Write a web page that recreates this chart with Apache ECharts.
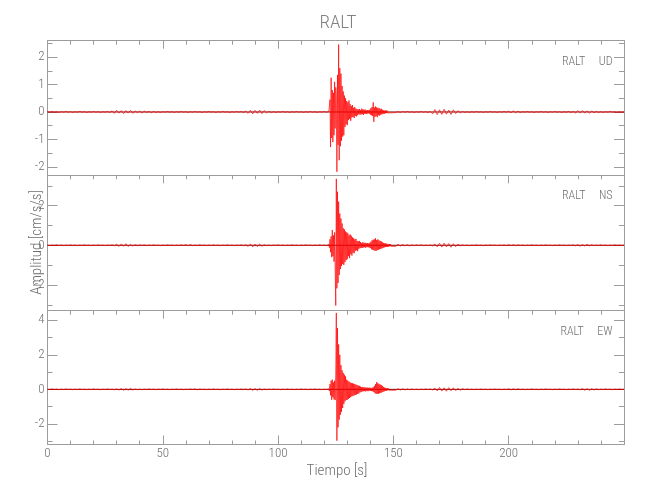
<!DOCTYPE html>
<html><head><meta charset="utf-8">
<script src="https://cdn.jsdelivr.net/npm/echarts@6/dist/echarts.min.js"></script>
<style>html,body{margin:0;padding:0;background:#fff}#c{width:650px;height:500px}</style>
</head><body><div id="c"></div>
<script>
// ---------- data ----------
const titleText = 'RALT';
const componentLabels = ['RALT     UD', 'RALT     NS', 'RALT     EW'];
const xAxisName = 'Tiempo [s]';
const yAxisName = 'Amplitud [cm/s/s]';
const xTickLabels = [0, 50, 100, 150, 200];
const udMajorTicks = [-2, -1, 0, 1, 2];
const udMinorTicks = [-1.5, -0.5, 0.5, 1.5, 2.5];
const nsMajorTicks = [-2, 0, 2];
const nsMinorTicks = [-3, -1, 1, 3];
const ewMajorTicks = [-2, 0, 2, 4];
const ewMinorTicks = [-3, -1, 1, 3];
const udRange = [-2.31, 2.60];
const nsRange = [-3.30, 3.53];
const ewRange = [-3.19, 4.55];
const timeRange = [0, 250];

// sampling of the three pieces of each record (s)
const preStart = 0, preStep = 1;
const eventStart = 122, eventStep = 0.25;
const postStart = 150, postStep = 1;

// UD
const udPre = [
0.01,-0.01,0.02,-0.01,0.01,-0.02,0.01,-0.01,0.02,-0.01,
0.01,-0.02,0.01,-0.01,0.02,-0.01,0.01,-0.02,0.01,-0.01,
0.02,-0.01,0.01,-0.02,0.01,-0.01,0.02,-0.02,
0.04,-0.05,0.06,-0.04,0.05,-0.06,0.05,-0.04,0.06,-0.05,
0.03,-0.02,0.03,-0.04,0.03,-0.02,0.02,-0.03,0.02,-0.02,0.01,
-0.02,0.01,-0.01,0.02,-0.01,0.01,-0.02,0.01,-0.01,0.02,
-0.01,0.01,-0.02,0.01,-0.01,0.02,-0.01,0.01,-0.02,0.01,
-0.01,0.02,-0.01,0.01,-0.02,0.01,-0.01,0.02,-0.01,0.01,
-0.02,0.01,-0.01,0.02,-0.01,0.02,-0.02,0.03,
-0.05,0.06,-0.07,0.06,-0.05,0.07,-0.06,0.05,
-0.03,0.02,-0.02,0.01,-0.02,0.01,-0.01,0.02,-0.01,0.01,
-0.02,0.01,-0.01,0.02,-0.01,0.01,-0.02,0.01,-0.01,0.02,
-0.01,0.01,-0.02,0.01,-0.01,0.02,-0.01];
const udEvent = [
0.02,-0.03,0.45,-1.28,1.25,-0.95,0.80,-1.10,0.70,-0.85,
1.10,-0.60,0.90,0.55,-2.18,1.35,-1.20,2.46,-1.76,1.60,
-1.25,1.40,-1.05,0.95,-0.90,0.75,-0.85,0.60,-0.55,0.50,
-0.45,0.40,-0.48,0.35,-0.30,0.42,-0.25,0.28,-0.32,0.22,
-0.20,0.25,-0.18,0.15,-0.22,0.18,-0.14,0.12,-0.16,0.10,
-0.12,0.09,-0.08,0.11,-0.10,0.07,-0.09,0.12,-0.08,0.10,
-0.11,0.08,-0.06,0.09,-0.07,0.06,-0.08,0.07,-0.05,0.06,
-0.06,0.08,-0.10,0.14,-0.12,0.18,-0.15,0.35,-0.36,0.16,
-0.18,0.20,-0.15,0.17,-0.19,0.14,-0.12,0.15,-0.13,0.11,
-0.10,0.12,-0.09,0.08,-0.07,0.06,-0.07,0.05,-0.05,0.06,
-0.04,0.05,-0.04,0.03,-0.04,0.03,-0.03,0.04,-0.03,0.02,
-0.03,0.02];
const udPost = [
0.02,-0.02,0.01,-0.02,0.02,-0.01,0.02,-0.01,0.01,-0.02,
0.01,-0.01,0.02,-0.01,0.01,-0.02,0.02,
-0.07,0.09,-0.10,0.08,-0.09,0.10,-0.08,0.07,-0.09,0.08,-0.06,0.05,
-0.03,0.02,-0.02,0.01,-0.02,0.01,-0.01,0.02,-0.01,0.01,
-0.02,0.01,-0.01,0.02,-0.01,0.01,-0.02,0.01,-0.01,0.02,-0.01,
0.03,-0.03,0.04,-0.03,0.03,
-0.02,0.01,-0.01,0.02,-0.01,0.01,-0.02,0.01,-0.01,0.02,
-0.01,0.01,-0.02,0.01,-0.01,0.02,-0.01,0.01,-0.02,0.01,-0.01,0.02,-0.02,0.02,
-0.04,0.05,-0.04,0.05,-0.04,0.04,-0.05,0.04,-0.03,
0.02,-0.02,0.01,-0.02,0.01,-0.01,0.02,-0.01,0.01,-0.02,0.01,-0.01,0.01];

// NS
const nsPre = [
0.01,-0.02,0.01,-0.01,0.02,-0.01,0.01,-0.02,0.01,-0.01,
0.02,-0.01,0.01,-0.02,0.01,-0.01,0.02,-0.01,0.01,-0.02,
0.01,-0.01,0.02,-0.01,0.01,-0.02,0.01,-0.01,0.02,-0.02,
0.05,-0.06,0.07,-0.05,0.08,-0.06,0.05,-0.04,
0.03,-0.02,0.02,-0.01,0.02,-0.02,0.01,-0.01,0.02,-0.01,
0.01,-0.02,0.01,-0.01,0.02,-0.01,0.01,-0.02,0.01,-0.01,
0.02,-0.01,0.03,-0.02,0.03,-0.02,0.01,-0.01,0.02,-0.01,
0.01,-0.02,0.01,-0.01,0.02,-0.01,0.01,-0.02,0.01,-0.01,
0.02,-0.01,0.01,-0.02,0.01,-0.01,0.02,-0.02,0.03,
-0.06,0.07,-0.08,0.06,-0.07,0.06,-0.05,
0.03,-0.02,0.01,-0.02,0.01,-0.01,0.02,-0.01,0.01,-0.02,
0.01,-0.01,0.02,-0.01,0.01,-0.02,0.01,-0.01,0.02,-0.01,
0.01,-0.02,0.01,-0.01,0.02,-0.01,0.01,-0.02];
const nsEvent = [
0.05,-0.12,0.30,-0.35,0.45,-0.60,0.77,-0.55,0.50,-0.82,
0.65,0.55,-3.04,3.35,-2.17,2.70,-1.90,2.20,-1.50,1.60,
-1.20,1.35,-1.05,1.10,-0.95,0.86,-0.99,0.80,-0.85,0.70,
-0.75,0.65,-0.70,0.60,-0.55,0.50,-0.65,0.55,-0.45,0.48,
-0.52,0.40,-0.38,0.35,-0.40,0.30,-0.28,0.32,-0.25,0.22,
-0.30,0.20,-0.18,0.22,-0.15,0.16,-0.14,0.12,-0.13,0.15,
-0.11,0.12,-0.10,0.13,-0.12,0.10,-0.09,0.11,-0.10,0.09,
-0.11,0.12,-0.14,0.18,-0.20,0.25,-0.22,0.28,-0.25,0.30,
-0.27,0.35,-0.29,0.26,-0.24,0.30,-0.22,0.25,-0.20,0.22,
-0.18,0.20,-0.16,0.15,-0.14,0.12,-0.11,0.10,-0.09,0.10,
-0.08,0.07,-0.08,0.06,-0.07,0.06,-0.05,0.06,-0.05,0.04,
-0.05,0.04];
const nsPost = [
0.05,-0.06,0.05,-0.04,0.04,-0.03,0.03,-0.03,0.02,-0.02,
0.02,-0.01,0.02,-0.02,0.01,-0.02,0.02,-0.03,
0.06,-0.08,0.10,-0.09,0.11,-0.08,0.09,-0.10,0.08,-0.07,0.06,
-0.03,0.02,-0.02,0.01,-0.02,0.01,-0.01,0.02,-0.01,0.01,
-0.02,0.01,-0.01,0.02,-0.01,0.01,-0.02,0.01,-0.01,0.02,
-0.02,0.03,-0.02,0.03,-0.02,0.02,-0.01,0.01,-0.02,0.01,
-0.01,0.02,-0.01,0.01,-0.02,0.01,-0.01,0.02,-0.01,0.01,
-0.02,0.01,-0.01,0.02,-0.01,0.01,-0.02,0.01,-0.01,0.02,
-0.03,0.04,-0.05,0.04,-0.04,0.05,-0.03,0.03,
-0.02,0.01,-0.01,0.02,-0.01,0.01,-0.02,0.01,-0.01,0.02,-0.01,0.01,-0.01,0.01];

// EW
const ewPre = [
0.01,-0.01,0.02,-0.01,0.01,-0.02,0.01,-0.01,0.02,-0.01,
0.01,-0.02,0.01,-0.01,0.02,-0.01,0.01,-0.02,0.01,-0.01,
0.02,-0.01,0.01,-0.02,0.01,-0.01,0.02,-0.01,0.01,-0.02,0.02,
-0.04,0.05,-0.06,0.05,-0.05,0.06,-0.04,
0.02,-0.02,0.01,-0.02,0.01,-0.01,0.02,-0.01,0.01,-0.02,
0.01,-0.01,0.02,-0.01,0.01,-0.02,0.01,-0.01,0.02,-0.01,
0.01,-0.02,0.01,-0.01,0.02,-0.01,0.03,-0.03,0.02,-0.01,
0.01,-0.02,0.01,-0.01,0.02,-0.01,0.01,-0.02,0.01,-0.01,
0.02,-0.01,0.01,-0.02,0.01,-0.01,0.02,-0.01,0.02,-0.03,
0.05,-0.06,0.05,-0.06,0.05,-0.04,
0.02,-0.02,0.01,-0.01,0.02,-0.01,0.01,-0.02,0.01,-0.01,
0.02,-0.01,0.01,-0.02,0.01,-0.01,0.02,-0.01,0.01,-0.02,
0.01,-0.01,0.02,-0.01,0.01,-0.02,0.01,-0.01];
const ewEvent = [
0.03,-0.10,0.30,-0.35,0.50,-0.60,0.56,-0.45,0.40,-0.58,
0.50,-0.62,0.90,4.42,-2.97,3.55,-2.20,2.60,-1.75,2.00,
-1.47,1.40,-1.30,1.10,-1.08,0.95,-0.85,0.85,-0.70,0.75,
-0.62,0.56,-0.60,0.50,-0.55,0.45,-0.50,0.40,-0.45,0.37,
-0.40,0.35,-0.38,0.33,-0.35,0.30,-0.32,0.28,-0.30,0.25,
-0.26,0.22,-0.24,0.20,-0.18,0.16,-0.15,0.13,-0.12,0.14,
-0.11,0.12,-0.10,0.11,-0.12,0.10,-0.09,0.10,-0.11,0.09,
-0.08,0.10,-0.09,0.08,-0.10,0.09,-0.11,0.12,-0.15,0.20,
-0.22,0.30,-0.27,0.42,-0.25,0.35,-0.26,0.32,-0.22,0.28,
-0.20,0.25,-0.18,0.20,-0.15,0.14,-0.12,0.10,-0.09,0.08,
-0.08,0.07,-0.06,0.07,-0.05,0.06,-0.05,0.04,-0.05,0.04,
-0.03,0.04];
const ewPost = [
0.04,-0.05,0.04,-0.04,0.03,-0.03,0.02,-0.02,0.02,-0.02,
0.01,-0.02,0.01,-0.01,0.02,-0.01,0.02,-0.03,
0.07,-0.09,0.11,-0.10,0.09,-0.11,0.10,-0.08,0.09,-0.07,0.06,-0.05,0.04,
-0.02,0.02,-0.01,0.01,-0.02,0.01,-0.01,0.02,-0.01,0.01,
-0.02,0.01,-0.01,0.02,-0.01,0.01,-0.02,0.01,-0.01,
0.03,-0.03,0.03,-0.02,0.03,
-0.01,0.01,-0.02,0.01,-0.01,0.02,-0.01,0.01,-0.02,0.01,
-0.01,0.02,-0.01,0.01,-0.02,0.01,-0.01,0.02,-0.01,0.01,-0.02,0.01,-0.01,0.02,-0.01,0.01,-0.02,
0.04,-0.05,0.04,-0.05,0.04,-0.04,0.03,
-0.02,0.01,-0.01,0.02,-0.01,0.01,-0.02,0.01,-0.01,0.02,-0.01,0.01];

// ---------- build ----------
function build(pre, ev, post) {
  const pts = [];
  pre.forEach((v, i) => pts.push([preStart + i * preStep, v]));
  ev.forEach((v, i) => pts.push([eventStart + i * eventStep, v]));
  post.forEach((v, i) => pts.push([postStart + i * postStep, v]));
  return pts;
}
const records = [build(udPre, udEvent, udPost), build(nsPre, nsEvent, nsPost), build(ewPre, ewEvent, ewPost)];
const ranges = [udRange, nsRange, ewRange];
const majors = [udMajorTicks, nsMajorTicks, ewMajorTicks];
const minors = [udMinorTicks, nsMinorTicks, ewMinorTicks];

const AX = '#9c9c9c', TX = '#6e6e6e';
const FONT = "'Roboto Condensed','DejaVu Sans Condensed',sans-serif";
const FW = 300;
const LEFT = 47.5, RIGHT = 26;
const tops = [40.7, 175.3, 310.7];
const heights = [134.6, 135.4, 133.8];

const grid = [], xAxis = [], yAxis = [], series = [];
for (let g = 0; g < 3; g++) {
  grid.push({ left: LEFT, right: RIGHT, top: tops[g], height: heights[g], containLabel: false });
  const last = g === 2;
  xAxis.push({
    type: 'value', gridIndex: g, position: 'bottom', min: timeRange[0], max: timeRange[1], interval: 50,
    axisLine: { show: true, onZero: false, lineStyle: { color: AX, width: 1 } },
    axisTick: { show: last, inside: true, length: 9, lineStyle: { color: AX } },
    minorTick: { show: last, splitNumber: 5, length: 4, lineStyle: { color: AX } },
    axisLabel: { show: last, customValues: xTickLabels, color: TX, fontFamily: FONT, fontWeight: FW, fontSize: 13, margin: 3 },
    splitLine: { show: false }, minorSplitLine: { show: false }
  });
  xAxis.push({
    type: 'value', gridIndex: g, position: 'top', min: timeRange[0], max: timeRange[1], interval: 50,
    axisLine: { show: true, onZero: false, lineStyle: { color: AX, width: 1 } },
    axisTick: { show: true, inside: true, length: 8, lineStyle: { color: AX } },
    minorTick: { show: true, splitNumber: 5, length: 4, lineStyle: { color: AX } },
    axisLabel: { show: false }, splitLine: { show: false }
  });
  const [mn, mx] = ranges[g];
  const yBase = { type: 'value', gridIndex: g, min: mn, max: mx, splitLine: { show: false } };
  yAxis.push(Object.assign({}, yBase, {
    position: 'left',
    axisLine: { show: true, onZero: false, lineStyle: { color: AX } },
    axisTick: { show: true, inside: true, length: 10, customValues: majors[g], lineStyle: { color: AX } },
    axisLabel: { show: true, customValues: majors[g], color: TX, fontFamily: FONT, fontWeight: FW, fontSize: 13, margin: 3 }
  }));
  yAxis.push(Object.assign({}, yBase, {
    position: 'left',
    axisLine: { show: false, onZero: false },
    axisTick: { show: true, inside: true, length: 5, customValues: minors[g], lineStyle: { color: AX } },
    axisLabel: { show: false }
  }));
  yAxis.push(Object.assign({}, yBase, {
    position: 'right',
    axisLine: { show: true, onZero: false, lineStyle: { color: AX } },
    axisTick: { show: true, inside: true, length: 10, customValues: majors[g], lineStyle: { color: AX } },
    axisLabel: { show: false }
  }));
  yAxis.push(Object.assign({}, yBase, {
    position: 'right',
    axisLine: { show: false, onZero: false },
    axisTick: { show: true, inside: true, length: 5, customValues: minors[g], lineStyle: { color: AX } },
    axisLabel: { show: false }
  }));
  series.push({
    type: 'line', xAxisIndex: 2 * g, yAxisIndex: 4 * g, z: 1,
    data: [[timeRange[0], 0], [timeRange[1], 0]],
    symbol: 'none', silent: true, lineStyle: { color: '#7a0000', width: 1 }
  });
  series.push({
    type: 'line', xAxisIndex: 2 * g, yAxisIndex: 4 * g, z: 2,
    data: records[g], symbol: 'none', showSymbol: false, sampling: null,
    lineStyle: { color: '#ff0000', width: 0.7 }, clip: true
  });
}

const graphic = [
  { type: 'text', style: { text: titleText, x: 338, y: 23, align: 'center', verticalAlign: 'middle', font: FW + ' 19px ' + FONT, fill: '#808080' } },
  { type: 'text', style: { text: xAxisName, x: 337, y: 471, align: 'center', verticalAlign: 'middle', font: FW + ' 15px ' + FONT, fill: TX } },
  { type: 'text', x: 37.5, y: 242.5, rotation: Math.PI / 2, style: { text: yAxisName, x: 0, y: 0, align: 'center', verticalAlign: 'middle', font: FW + ' 15px ' + FONT, fill: TX } }
];
const labelY = [61.5, 196.1, 331.5];
componentLabels.forEach((t, i) => graphic.push({
  type: 'text', style: { text: t, x: 612.5, y: labelY[i], align: 'right', verticalAlign: 'middle', font: FW + ' 12px ' + FONT, fill: TX }
}));

const chart = echarts.init(document.getElementById('c'), null, { renderer: 'canvas' });
chart.setOption({ animation: false, backgroundColor: '#fff', grid, xAxis, yAxis, series, graphic });
</script></body></html>
